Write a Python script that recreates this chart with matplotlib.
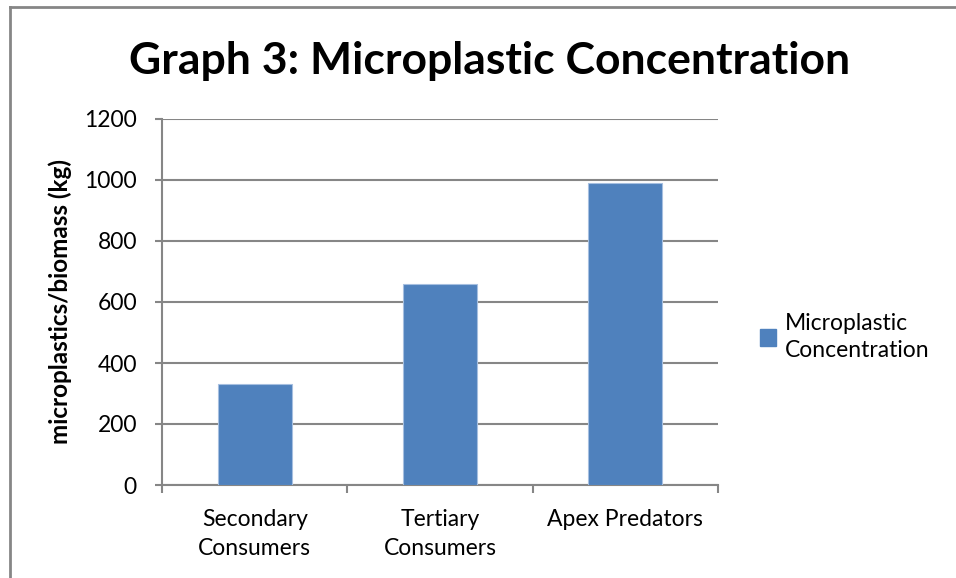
import matplotlib
matplotlib.use("Agg")
import matplotlib.pyplot as plt
from matplotlib.lines import Line2D
from matplotlib.patches import Patch

categories = ["Secondary\nConsumers", "Tertiary\nConsumers", "Apex Predators"]
values = [330, 660, 990]
series_name = "Microplastic\nConcentration"
yticks = [0, 200, 400, 600, 800, 1000, 1200]

plt.rcParams['font.family'] = ['Lato', 'DejaVu Sans']

W, H = 956, 578
fig = plt.figure(figsize=(W / 100, H / 100), dpi=100)
fig.patch.set_facecolor("white")

# outer chart border (top and left visible)
fig.add_artist(Line2D([9.5 / W, 9.5 / W], [0, 1 - 7 / H], color="#868686", lw=2, transform=fig.transFigure))
fig.add_artist(Line2D([9.5 / W, 1], [1 - 7 / H, 1 - 7 / H], color="#868686", lw=2, transform=fig.transFigure))

left, right, top, bottom = 162, 718, 119, 485
ax = fig.add_axes([left / W, 1 - bottom / H, (right - left) / W, (bottom - top) / H])

grid_c = "#868686"
x = list(range(len(categories)))
ax.bar(x, values, width=0.4, color="#4F81BD", edgecolor="#A6BFE0", linewidth=0.8, zorder=3)

ax.set_xlim(-0.5, len(categories) - 0.5)
ax.set_ylim(0, 1200)
ax.set_yticks(yticks)
ax.set_yticklabels([str(v) for v in yticks], fontsize=16.5)
ax.yaxis.grid(True, color=grid_c, linewidth=1.5, zorder=0)
ax.tick_params(axis="y", direction="out", length=5, width=1.5, color=grid_c, pad=13)

ax.set_xticks(x)
ax.set_xticklabels(categories, fontsize=16.5, linespacing=1.5)
ax.tick_params(axis="x", length=0, pad=17)
# boundary tick marks between categories
ax.set_xticks([-0.5, 0.5, 1.5, 2.5], minor=True)
ax.tick_params(axis="x", which="minor", direction="out", length=6, width=1.5, color=grid_c)

for s in ["top", "right"]:
    ax.spines[s].set_visible(False)
ax.spines["left"].set_color(grid_c)
ax.spines["left"].set_linewidth(1.5)
ax.spines["bottom"].set_color(grid_c)
ax.spines["bottom"].set_linewidth(1.5)

ax.set_ylabel("microplastics/biomass (kg)", fontsize=17.5, fontweight="bold")
ax.yaxis.set_label_coords(-(left - 72) / (right - left), 0.5)

fig.text(490 / W, 1 - 61 / H, "Graph 3: Microplastic Concentration", ha="center", va="center",
         fontsize=32, fontweight="bold")

leg = fig.legend(handles=[Patch(facecolor="#4F81BD", edgecolor="#4F81BD", label=series_name)],
                 loc="center left", bbox_to_anchor=(739 / W, 1 - 337 / H), frameon=False,
                 fontsize=16.5, handlelength=0.7, handleheight=0.7, handletextpad=0.4)
for t in leg.get_texts():
    t.set_linespacing(1.4)

fig.savefig("out.png", dpi=100, facecolor="white")
